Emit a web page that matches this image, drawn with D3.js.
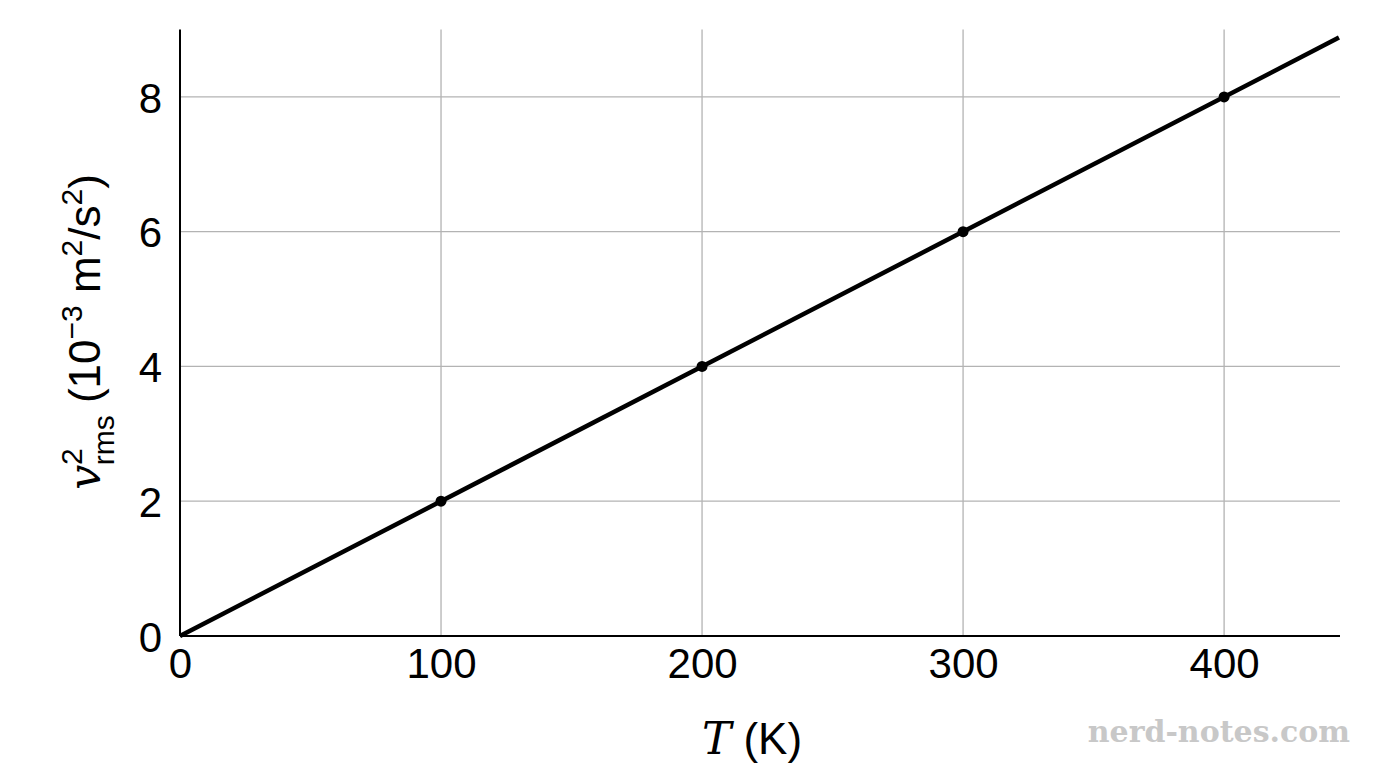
<!DOCTYPE html>
<html><head><meta charset="utf-8">
<script src="https://cdn.jsdelivr.net/npm/d3@7"></script>
<style>body{margin:0;background:#fff}</style></head>
<body><svg id="c" width="1376" height="768"></svg>
<script>
const pointsT = [100, 200, 300, 400];
const pointsV = [2, 4, 6, 8];
const lineT = [0, 444];
const lineV = [0, 8.88];
const xTicks = [0, 100, 200, 300, 400];
const yTicks = [0, 2, 4, 6, 8];

const svg = d3.select("#c");
const x = d3.scaleLinear().domain([0, 444.4]).range([180, 1340]);
const y = d3.scaleLinear().domain([0, 9]).range([636, 29.5]);
const font = "'Liberation Sans', Arial, sans-serif";

svg.append("g").selectAll("line").data(xTicks.slice(1)).join("line")
  .attr("x1", d => x(d)).attr("x2", d => x(d)).attr("y1", y(9)).attr("y2", y(0))
  .attr("stroke", "#b3b3b3").attr("stroke-width", 1.3);
svg.append("g").selectAll("line").data(yTicks.slice(1)).join("line")
  .attr("x1", x(0)).attr("x2", 1340).attr("y1", d => y(d)).attr("y2", d => y(d))
  .attr("stroke", "#b3b3b3").attr("stroke-width", 1.3);

const xa = svg.append("g").attr("transform", `translate(0,${y(0)})`)
  .call(d3.axisBottom(x).tickValues(xTicks).tickSize(0).tickPadding(12));
const ya = svg.append("g").attr("transform", `translate(${x(0)},0)`)
  .call(d3.axisLeft(y).tickValues(yTicks).tickSize(0).tickPadding(18));
[xa, ya].forEach(a => {
  a.select(".domain").attr("stroke", "#000").attr("stroke-width", 2);
  a.selectAll("text").attr("font-family", font).attr("font-size", 42).attr("fill", "#000");
});
xa.select(".domain").attr("d", `M180,0H1340`);
ya.select(".domain").attr("d", `M0,${y(0)}V29.5`);
ya.selectAll("text").attr("dy", "0.36em");

svg.append("path").datum(lineT.map((t, i) => [t, lineV[i]]))
  .attr("d", d3.line().x(d => x(d[0])).y(d => y(d[1])))
  .attr("stroke", "#000").attr("stroke-width", 4.5).attr("fill", "none");
svg.append("g").selectAll("circle").data(pointsT).join("circle")
  .attr("cx", d => x(d)).attr("cy", (d, i) => y(pointsV[i])).attr("r", 5.5).attr("fill", "#000");

const xl = svg.append("text").attr("x", 752).attr("y", 754).attr("text-anchor", "middle")
  .attr("font-family", font).attr("font-size", 44);
xl.append("tspan").attr("font-family", "'DejaVu Serif', serif").attr("font-style", "italic").text("T");
xl.append("tspan").text(" (K)");

const yl = svg.append("text").attr("transform", "translate(100,332) rotate(-90)")
  .attr("text-anchor", "middle").attr("font-family", font).attr("font-size", 44);
yl.append("tspan").attr("font-family", "'DejaVu Serif', serif").attr("font-style", "italic").text("v");
yl.append("tspan").attr("font-size", 30).attr("dy", -18).text("2");
yl.append("tspan").attr("font-size", 30).attr("dy", 32).attr("dx", -17).text("rms");
yl.append("tspan").attr("dy", -14).text(" (10");
yl.append("tspan").attr("font-size", 30).attr("dy", -18).text("−3");
yl.append("tspan").attr("dy", 18).text(" m");
yl.append("tspan").attr("font-size", 30).attr("dy", -18).text("2");
yl.append("tspan").attr("dy", 18).text("/s");
yl.append("tspan").attr("font-size", 30).attr("dy", -18).text("2");
yl.append("tspan").attr("dy", 18).text(")");

svg.append("text").attr("x", 1350).attr("y", 742).attr("text-anchor", "end")
  .attr("font-family", "'DejaVu Serif', 'Liberation Serif', serif").attr("font-weight", "bold")
  .attr("font-size", 30).attr("fill", "#c8c8c8").text("nerd-notes.com");
</script></body></html>
